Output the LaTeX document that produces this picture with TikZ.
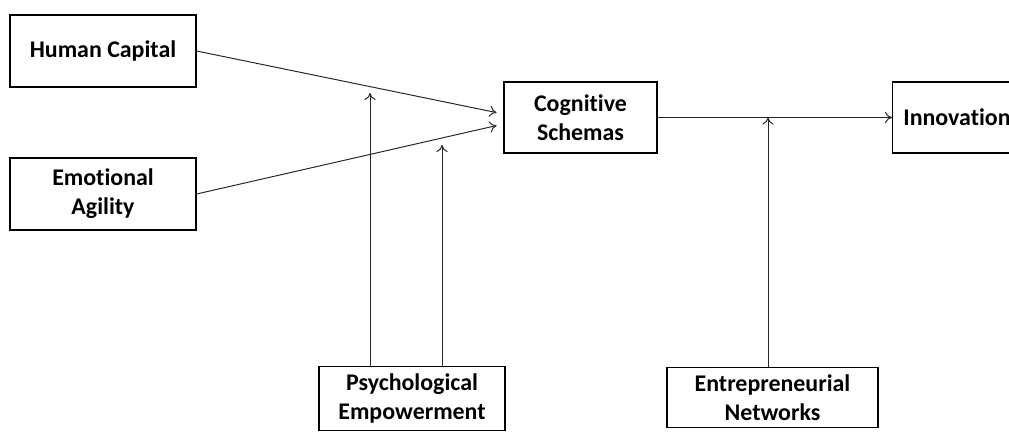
\documentclass[tikz,border=0pt]{standalone}
\usepackage{fontspec}
\setmainfont{Carlito}[Ligatures=NoCommon]
\usetikzlibrary{arrows.meta}
\begin{document}
\begin{tikzpicture}[x=0.025cm, y=-0.025cm, >={To[length=5pt,width=8pt]}, line width=0.7pt]

        \useasboundingbox (0,0) rectangle (1009,435);
        \clip (0,0) rectangle (1009,435);

        \begin{scope}[every node/.style={draw, line width=0.8pt, align=center, inner sep=0pt,
            font=\fontsize{17}{20.5}\selectfont\bfseries}]
          \node (hc)  at (103,51)    [minimum width=4.65cm, minimum height=1.8cm] {Human Capital};
          \node (ea)  at (103,194)   [minimum width=4.65cm, minimum height=1.8cm] {Emotional\\Agility};
          \node (cs)  at (580.5,117.5) [minimum width=3.825cm, minimum height=1.775cm] {Cognitive\\Schemas};
          \node (inn) at (892,117.5) [anchor=west, minimum height=1.775cm, text width=4.5cm,
            align=left, inner xsep=0.27cm] {Innovation};
          \node (pe)  at (412,366)   [anchor=north, minimum width=4.65cm, inner ysep=0.18cm] {Psychological\\Empowerment};
          \node (en)  at (772.5,367) [anchor=north, minimum width=5.275cm, inner ysep=0.18cm] {Entrepreneurial\\Networks};
        \end{scope}

        \coordinate (m1) at (370,93);
        \coordinate (m2) at (442,145);
        \coordinate (m3) at (768,117.5);

        \begin{scope}[every edge/.style={draw, ->, black!85}]
          \path (hc.east) edge[shorten >=5pt] ([yshift=2.5pt]cs.west);
          \path (ea.east) edge[shorten >=5pt] ([yshift=-4.6pt]cs.west);
          \path (cs.east) edge (inn.west);
          \path (pe.north -| m1) edge (m1);
          \path (pe.north -| m2) edge (m2);
          \path (en.north -| m3) edge (m3);
        \end{scope}

      \end{tikzpicture}
\end{document}
